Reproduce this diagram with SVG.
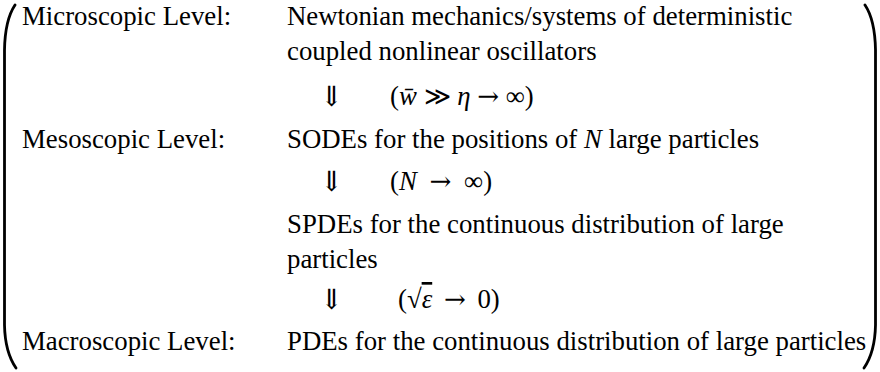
<svg xmlns="http://www.w3.org/2000/svg" width="880" height="372" viewBox="0 0 880 372">
<style>
text{font-family:"Liberation Serif","Times New Roman",serif;font-size:26.8px;fill:#000}
.m{font-style:italic}
.ar{font-family:"DejaVu Serif","Liberation Serif",serif;font-size:28px}
.op{font-family:"DejaVu Serif","Liberation Serif",serif;font-size:26px}
.ov{text-decoration:overline}
.br{fill:none;stroke:#000;stroke-width:2.8;stroke-linecap:round}
</style>
<rect width="880" height="372" fill="#fff"/>
<g id="brackets">
<path class="br" d="M15,5 Q5,20 4.5,50 L4.5,325 Q5,352 16,368"/>
<path class="br" d="M865,5 Q875,20 875.5,50 L875.5,325 Q875,352 864,368"/>
</g>
<g id="micro">
<text x="22" y="25">Microscopic Level:</text>
<text x="287" y="25">Newtonian mechanics/systems of deterministic</text>
<text x="287" y="60">coupled nonlinear oscillators</text>
</g>
<g id="meso">
<text x="22" y="148">Mesoscopic Level:</text>
<text x="287" y="148">SODEs for the positions of <tspan class="m">N</tspan> large particles</text>
</g>
<g id="spde">
<text x="287" y="233">SPDEs for the continuous distribution of large</text>
<text x="287" y="268">particles</text>
</g>
<g id="macro">
<text x="22" y="350">Macroscopic Level:</text>
<text x="287" y="350">PDEs for the continuous distribution of large particles</text>
</g>
<g id="connectors">
<text class="ar" x="320" y="106">⇓</text>
<text x="390" y="105">(<tspan class="m">w̄</tspan> <tspan class="op" font-size="22">≫</tspan> <tspan class="m">η</tspan> <tspan class="op">→</tspan> ∞)</text>
<text class="ar" x="320" y="191">⇓</text>
<text x="390" y="190">(<tspan class="m">N</tspan> <tspan class="op" dx="6">→</tspan> <tspan dx="6">∞</tspan>)</text>
<text class="ar" x="320" y="309">⇓</text>
<text x="398" y="308">(√<tspan class="m ov">ε</tspan> <tspan class="op" dx="5">→</tspan> <tspan dx="5">0</tspan>)</text>
</g>
</svg>
